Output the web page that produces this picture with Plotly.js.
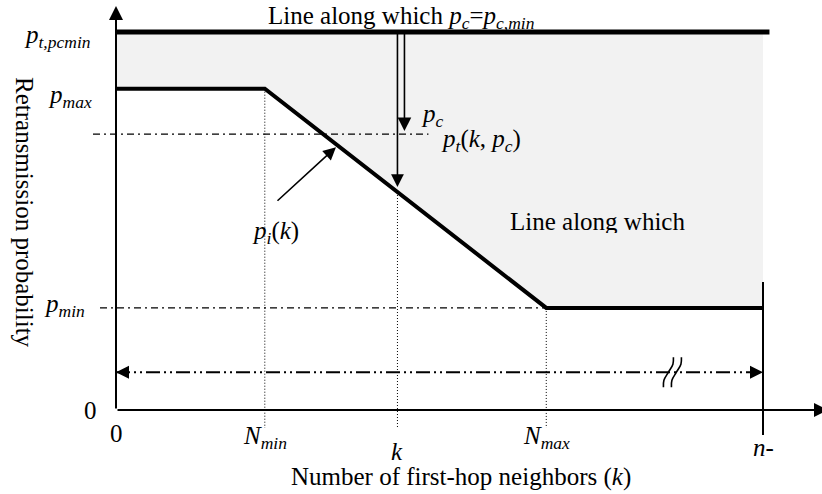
<!DOCTYPE html>
<html><head><meta charset="utf-8">
<script src="https://cdn.plot.ly/plotly-3.0.1.min.js"></script>
<style>html,body{margin:0;padding:0;background:#fff}</style>
</head><body><div id="chart" style="width:822px;height:494px"></div>
<script>
// ---- data (abstract units) ----
const kTickValues = [0, 4.6, 8.7, 13.3, 20];
const kTickLabels = ['0', '<i>N<sub>min</sub></i>', '<i>k</i>', '<i>N<sub>max</sub></i>', '<i>n-</i>'];
const pTickValues = [0, 0.27, 0.85, 1.0];
const pTickLabels = ['0', '<i>p<sub>min</sub></i>', '<i>p<sub>max</sub></i>', '<i>p<sub>t,pcmin</sub></i>'];
const curveK = [0, 4.6, 13.3, 20];        // p_i(k) breakpoints
const curveP = [0.85, 0.85, 0.27, 0.27];
const pTop = 1.0;                          // line along which p_c = p_c,min
const topLineEnd = 20.2;
const ptLevel = 0.73;                      // p_t(k, p_c)
const kSel = 8.7;                          // chosen k
const nMax = 20;                           // n-
const spanLevel = 0.10;                    // double-headed span arrow
const breakK = 17.2;                       // axis-break mark position
const piArrowK = 6.8;                      // where the p_i(k) pointer hits

// ---- helpers ----
const W = 822, H = 494;
const X0 = 116, Y0 = 410, SX = 32.35, SY = 378;   // origin px and px per unit
const xr = [-X0 / SX, (W - X0) / SX];
const yr = [-(H - Y0) / SY, Y0 / SY];
const P = (px, py) => ({x: px / W, y: 1 - py / H});
function curveAt(k) {
  for (let i = 0; i < curveK.length - 1; i++) {
    if (k >= curveK[i] && k <= curveK[i + 1]) {
      const t = (k - curveK[i]) / (curveK[i + 1] - curveK[i]);
      return curveP[i] + t * (curveP[i + 1] - curveP[i]);
    }
  }
  return curveP[curveP.length - 1];
}
const ux = px => px / SX, uy = py => py / SY;   // pixel lengths to units

const FONT = {family: 'Liberation Serif, Times New Roman, serif', size: 25, color: '#000'};
const blk = '#000';
const pSel = curveAt(kSel);
const botDot = -uy(18);

const traces = [
  // shaded region
  {x: curveK.concat([nMax, 0]), y: curveP.concat([pTop, pTop]), mode: 'lines', fill: 'toself',
   fillcolor: '#f2f2f2', line: {width: 0}, hoverinfo: 'skip'},
  // dash-dot reference lines
  {x: [-ux(23), kSel + ux(31)], y: [ptLevel, ptLevel], mode: 'lines',
   line: {color: blk, width: 1.3, dash: '7px,4px,2px,4px'}},
  {x: [-ux(16), kTickValues[3]], y: [pTickValues[1], pTickValues[1]], mode: 'lines',
   line: {color: blk, width: 1.3, dash: '7px,4px,2px,4px'}},
  // span line
  {x: [0, nMax], y: [spanLevel, spanLevel], mode: 'lines',
   line: {color: blk, width: 2, dash: '14px,4px,2px,4px,2px,4px'}},
  // dotted verticals
  {x: [kTickValues[1], kTickValues[1], null, kSel, kSel, null, kTickValues[3], kTickValues[3]],
   y: [curveP[1], botDot, null, pSel, botDot, null, curveP[2], botDot], mode: 'lines',
   line: {color: blk, width: 1, dash: '1px,2px'}},
  // n- vertical
  {x: [nMax, nMax], y: [uy(128), -uy(25)], mode: 'lines', line: {color: blk, width: 2}},
  // top line
  {x: [0, topLineEnd], y: [pTop, pTop], mode: 'lines', line: {color: blk, width: 5}},
  // p_i(k) curve
  {x: curveK, y: curveP, mode: 'lines', line: {color: blk, width: 4}},
  // break marks
  {x: [breakK - ux(9), breakK - ux(8.5), breakK - ux(4), breakK + ux(0.5), breakK + ux(1)],
   y: [spanLevel - uy(15), spanLevel - uy(8), spanLevel, spanLevel + uy(8), spanLevel + uy(15)],
   mode: 'lines', line: {color: blk, width: 1.6, shape: 'spline'}},
  {x: [breakK - ux(1), breakK - ux(0.5), breakK + ux(4), breakK + ux(8.5), breakK + ux(9)],
   y: [spanLevel - uy(15), spanLevel - uy(8), spanLevel, spanLevel + uy(8), spanLevel + uy(15)],
   mode: 'lines', line: {color: blk, width: 1.6, shape: 'spline'}}
];

const arrowBase = {xref: 'x', yref: 'y', text: '', showarrow: true, arrowcolor: blk, standoff: 0, startstandoff: 0};
const annotations = [
  // axes
  Object.assign({}, arrowBase, {x: 0, y: uy(404), axref: 'x', ayref: 'y', ax: 0, ay: 0,
    arrowhead: 2, arrowwidth: 2, arrowsize: 1.4}),
  Object.assign({}, arrowBase, {x: ux(712), y: 0, axref: 'x', ayref: 'y', ax: 0, ay: 0,
    arrowhead: 2, arrowwidth: 2, arrowsize: 1.4}),
  // p_c arrows from the top line
  Object.assign({}, arrowBase, {x: kSel, y: pSel + uy(5), axref: 'x', ayref: 'y', ax: kSel, ay: pTop,
    arrowhead: 2, arrowwidth: 1.6, arrowsize: 1.6}),
  Object.assign({}, arrowBase, {x: kSel + ux(7), y: ptLevel + uy(3), axref: 'x', ayref: 'y', ax: kSel + ux(7), ay: pTop,
    arrowhead: 2, arrowwidth: 1.6, arrowsize: 1.7}),
  // pointer to p_i(k)
  Object.assign({}, arrowBase, {x: piArrowK, y: curveAt(piArrowK) - uy(3), ax: -60, ay: 55,
    arrowhead: 2, arrowwidth: 1.6, arrowsize: 1.6}),
  // span arrow heads
  Object.assign({}, arrowBase, {x: 0, y: spanLevel, ax: 14, ay: 0, arrowhead: 2, arrowwidth: 2, arrowsize: 1.3}),
  Object.assign({}, arrowBase, {x: nMax, y: spanLevel, ax: -14, ay: 0, arrowhead: 2, arrowwidth: 2, arrowsize: 1.3})
];

// x tick labels
const kShift = [-23, -27, -41, -27, -37];
kTickValues.forEach((v, i) => annotations.push({xref: 'x', yref: 'y', x: v, y: 0, yshift: kShift[i],
  text: kTickLabels[i], showarrow: false, font: FONT, xanchor: 'center', yanchor: 'middle'}));
// y tick labels (right aligned)
const pRight = [99, 87, 94, 93];
const pShift = [0, 2, -8, -4];
pTickValues.forEach((v, i) => annotations.push({xref: 'paper', yref: 'y', x: pRight[i] / W, y: v, yshift: pShift[i],
  text: pTickLabels[i], showarrow: false, font: FONT, xanchor: 'right', yanchor: 'middle'}));

function label(px, py, text, extra) {
  const p = P(px, py);
  return Object.assign({xref: 'paper', yref: 'paper', x: p.x, y: p.y, text: text, showarrow: false,
    font: FONT, xanchor: 'center', yanchor: 'middle'}, extra || {});
}
annotations.push(
  label(401, 17, 'Line along which <i>p<sub>c</sub></i>=<i>p<sub>c,min</sub></i>'),
  label(432, 115, '<i>p<sub>c</sub></i>'),
  label(481, 140, '<i>p<sub>t</sub></i>(<i>k</i>, <i>p<sub>c</sub></i>)'),
  label(275, 232, '<i>p<sub>i</sub></i>(<i>k</i>)'),
  label(597, 206, 'Line along which', {yanchor: 'top', height: 25, valign: 'top'}),
  label(461, 477, 'Number of first-hop neighbors (<i>k</i>)'),
  label(25, 212, 'Retransmission probability', {textangle: 90})
);

const layout = {
  width: W, height: H, autosize: false,
  margin: {l: 0, r: 0, t: 0, b: 0, pad: 0},
  paper_bgcolor: '#fff', plot_bgcolor: '#fff', showlegend: false,
  xaxis: {range: xr, visible: false, fixedrange: true},
  yaxis: {range: yr, visible: false, fixedrange: true},
  annotations: annotations
};
Plotly.newPlot('chart', traces, layout, {displayModeBar: false, staticPlot: true});
</script></body></html>
